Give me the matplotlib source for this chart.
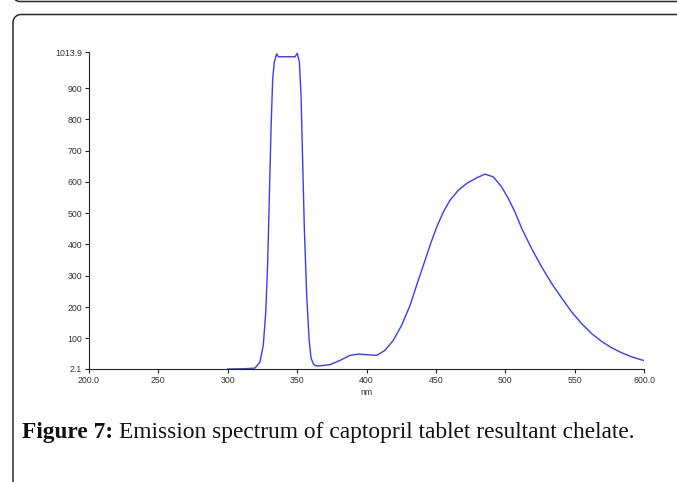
import numpy as np
import matplotlib
matplotlib.use("Agg")
import matplotlib.pyplot as plt

# emission spectrum (nm, intensity)
wavelength = [300, 312.4, 319.6, 323.2, 325.6, 327.4, 328.8, 330, 331.2, 332.4,
              333.6, 335.3, 336.4, 342, 348.5, 350.1, 351.6, 352.8, 354, 355.2,
              356.9, 358.6, 360.0, 361.5, 363, 365, 368, 373.7, 380.9, 388.1,
              394.1, 400.1, 407.3, 413.3, 419.3, 425.3, 431.4, 436.1, 441,
              445.8, 450.6, 455.4, 460.2, 466.2, 472.2, 479.4, 485.4, 491.4,
              497.4, 502.2, 507, 511.9, 519, 526.3, 533.5, 540.7, 547.9, 555.1,
              562.3, 569.5, 576.7, 583.9, 591.1, 599.5]
intensity = [2.1, 3, 5, 24, 78, 184, 344, 558, 771, 931,
             984, 1009, 1000, 1000, 1000, 1011, 984, 878, 664, 451,
             238, 99, 38, 20, 13, 12, 13, 16, 29.6, 45.6,
             49.8, 47.9, 45.6, 61.6, 93.6, 141.6, 205.6, 269.6, 333.6,
             397.6, 456, 504, 541.6, 573.6, 595, 613, 625, 616,
             584, 547, 504, 451, 387, 328, 275, 229, 184, 147,
             115, 90, 70, 54, 41, 29.6]

x_ticks = [200, 250, 300, 350, 400, 450, 500, 550, 600]
x_labels = ["200.0", "250", "300", "350", "400", "450", "500", "550", "600.0"]
y_ticks = [2.1, 100, 200, 300, 400, 500, 600, 700, 800, 900, 1013.9]
y_labels = ["2.1", "100", "200", "300", "400", "500", "600", "700", "800", "900", "1013.9"]

W, H = 677, 482
fig = plt.figure(figsize=(W / 100, H / 100), dpi=100)

# page frame (boxes of the article layout), in pixel units
frame = fig.add_axes([0, 0, 1, 1])
frame.set_xlim(0, W)
frame.set_ylim(H, 0)
frame.axis("off")
edge = dict(color="#2a2a2a", lw=1.1, solid_capstyle="butt")
t = np.linspace(0, np.pi / 2, 20)
# bottom of the previous box
r0 = 7
frame.plot(np.r_[13, 13 + r0 - r0 * np.cos(t), W + 2],
           np.r_[-3, 1.5 - r0 + r0 * np.sin(t), 1.5], **edge)
# current box: left side and top
r = 8
frame.plot(np.r_[13, 13 + r - r * np.cos(t), W + 2],
           np.r_[H + 2, 14.5 + r - r * np.sin(t), 14.5], **edge)

ax = fig.add_axes([89 / W, 1 - 369 / H, (644 - 89) / W, (369 - 52.4) / H])
ax.plot(wavelength, intensity, color="#3a3aff", lw=1.0)
ax.set_xlim(200, 600)
ax.set_ylim(2.1, 1013.9)
ax.set_xticks(x_ticks)
ax.set_xticklabels(x_labels)
ax.set_yticks(y_ticks)
ax.set_yticklabels(y_labels)
for s in ["top", "right"]:
    ax.spines[s].set_visible(False)
for s in ["left", "bottom"]:
    ax.spines[s].set_linewidth(0.8)
    ax.spines[s].set_color("#222222")
ax.tick_params(axis="both", labelsize=6.3, labelcolor="#333333", length=3,
               width=0.8, color="#222222", pad=2)
for lab in ax.get_xticklabels() + ax.get_yticklabels():
    lab.set_family("Liberation Sans")
ax.set_xlabel("nm", fontsize=6.3, color="#333333", family="Liberation Sans", labelpad=2)

# caption: bold label followed by the plain text
cap_y = 1 - 438 / H
bold = fig.text(22 / W, cap_y, "Figure 7:", fontsize=16.8, fontweight="bold",
                family="Liberation Serif", va="baseline", ha="left", color="#111111")
fig.canvas.draw()
bb = bold.get_window_extent()
fig.text((bb.x1 + 6) / W, cap_y, "Emission spectrum of captopril tablet resultant chelate.",
         fontsize=16.8, family="Liberation Serif", va="baseline", ha="left", color="#111111")

fig.savefig("out.png", dpi=100)
